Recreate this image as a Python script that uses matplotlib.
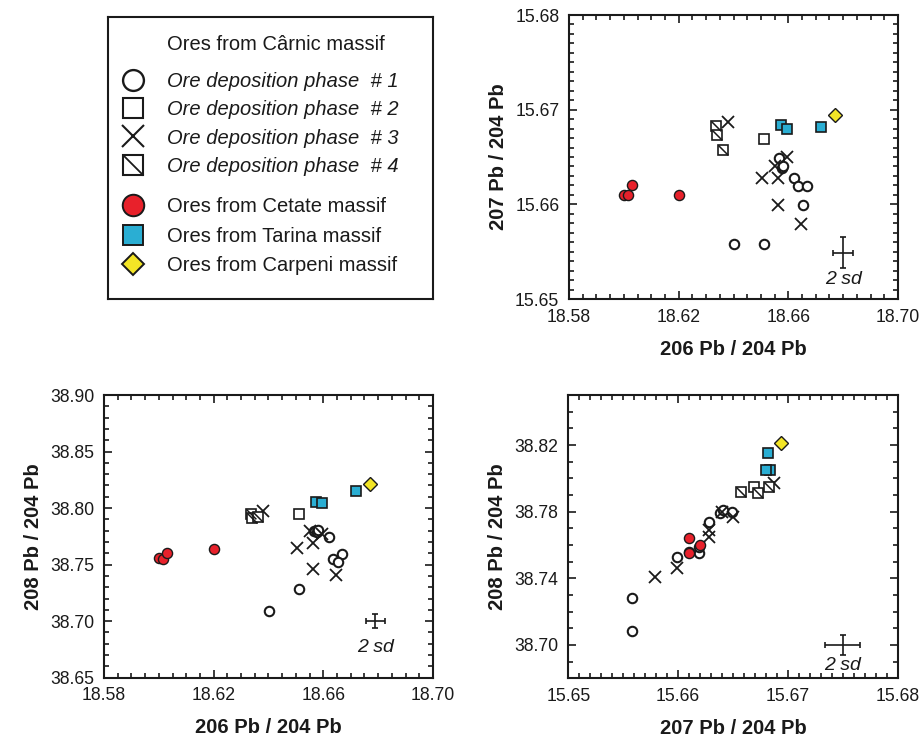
import matplotlib
matplotlib.use("Agg")
import matplotlib.pyplot as plt
from matplotlib.lines import Line2D
from matplotlib.ticker import MultipleLocator, FormatStrFormatter

plt.rcParams["font.family"] = ["Liberation Sans Narrow", "Liberation Sans", "DejaVu Sans"]

# Carnic massif, ore deposition phase 1 (open circles)
p1_206 = [18.6403, 18.6512, 18.6567, 18.6576, 18.6580, 18.6622, 18.6634, 18.6667, 18.6652]
p1_207 = [15.6558, 15.6558, 15.6649, 15.6638, 15.6641, 15.6628, 15.6619, 15.6619, 15.6599]
p1_208 = [38.7086, 38.7280, 38.7800, 38.7790, 38.7810, 38.7740, 38.7550, 38.7590, 38.7527]

# phase 2 (open squares)
p2_206 = [18.6510]
p2_207 = [15.6669]
p2_208 = [38.7950]

# phase 3 (crosses)
p3_206 = [18.6380, 18.6503, 18.6561, 18.6561, 18.6595, 18.6551, 18.6646]
p3_207 = [15.6687, 15.6628, 15.6628, 15.6599, 15.6650, 15.6640, 15.6579]
p3_208 = [38.7970, 38.7650, 38.7690, 38.7460, 38.7770, 38.7795, 38.7410]

# phase 4 (squares with a diagonal)
p4_206 = [18.6335, 18.6340, 18.6362]
p4_207 = [15.6683, 15.6673, 15.6657]
p4_208 = [38.7945, 38.7910, 38.7920]

# Cetate, Tarina, Carpeni massifs
cet_206 = [18.6000, 18.6015, 18.6030, 18.6200]
cet_207 = [15.6610, 15.6610, 15.6620, 15.6610]
cet_208 = [38.7560, 38.7550, 38.7600, 38.7640]

tar_206 = [18.6572, 18.6595, 18.6720]
tar_207 = [15.6684, 15.6680, 15.6682]
tar_208 = [38.8052, 38.8048, 38.8150]

car_206 = [18.6770]
car_207 = [15.6694]
car_208 = [38.8210]

# 2 sd reference crosses
sd_206, sd_207, sd_208 = 0.0036, 0.0016, 0.0060

EDGE = "#1a1a1a"
RED = "#e8212b"
BLUE = "#2aaed3"
YELLOW = "#f3e526"
DIAG = [(-1, 1), (1, -1)]

iso206 = {"p1": p1_206, "p2": p2_206, "p3": p3_206, "p4": p4_206,
          "cet": cet_206, "tar": tar_206, "car": car_206}
iso207 = {"p1": p1_207, "p2": p2_207, "p3": p3_207, "p4": p4_207,
          "cet": cet_207, "tar": tar_207, "car": car_207}
iso208 = {"p1": p1_208, "p2": p2_208, "p3": p3_208, "p4": p4_208,
          "cet": cet_208, "tar": tar_208, "car": car_208}


def draw_panel(ax, x, y, sd_pos, sd_err, sd_offset):
    ax.plot(x["p1"], y["p1"], "o", ms=6.8, mfc="white", mec=EDGE, mew=1.5, ls="none", zorder=3)
    ax.plot(x["p3"], y["p3"], "x", ms=8, mec=EDGE, mew=1.3, ls="none", zorder=3)
    ax.plot(x["p2"], y["p2"], "s", ms=7, mfc="white", mec=EDGE, mew=1.2, ls="none", zorder=3)
    ax.plot(x["p4"], y["p4"], "s", ms=7, mfc="white", mec=EDGE, mew=1.2, ls="none", zorder=3)
    ax.plot(x["p4"], y["p4"], marker=DIAG, ms=7, mec=EDGE, mew=1.1, ls="none", zorder=3)
    ax.plot(x["cet"], y["cet"], "o", ms=7.3, mfc=RED, mec=EDGE, mew=1.0, ls="none", zorder=4)
    ax.plot(x["tar"], y["tar"], "s", ms=7.6, mfc=BLUE, mec=EDGE, mew=1.2, ls="none", zorder=4)
    ax.plot(x["car"], y["car"], "D", ms=7.2, mfc=YELLOW, mec=EDGE, mew=1.0, ls="none", zorder=4)
    ax.errorbar([sd_pos[0]], [sd_pos[1]], xerr=[sd_err[0]], yerr=[sd_err[1]],
                fmt="none", ecolor=EDGE, elinewidth=1.2, capsize=2.5, capthick=1.2)
    ax.annotate("2 sd", xy=sd_pos, xytext=(0, sd_offset), textcoords="offset points",
                ha="center", va="center", fontsize=14, style="italic", color=EDGE)


def style_axes(ax, xlim, ylim, xticks, yticks, xminor, yminor, xlabel, ylabel):
    ax.set_xlim(xlim)
    ax.set_ylim(ylim)
    ax.set_xticks(xticks)
    ax.set_yticks(yticks)
    ax.xaxis.set_minor_locator(MultipleLocator(xminor))
    ax.yaxis.set_minor_locator(MultipleLocator(yminor))
    ax.xaxis.set_major_formatter(FormatStrFormatter("%.2f"))
    ax.yaxis.set_major_formatter(FormatStrFormatter("%.2f"))
    ax.tick_params(which="both", direction="in", top=True, right=True, width=1.2,
                   colors=EDGE, labelsize=12.7, pad=7)
    ax.tick_params(which="major", length=6)
    ax.tick_params(which="minor", length=3.5)
    for s in ax.spines.values():
        s.set_linewidth(1.5)
        s.set_color(EDGE)
    ax.set_xlabel(xlabel, fontsize=14.5, fontweight="bold", labelpad=10, color=EDGE)
    ax.set_ylabel(ylabel, fontsize=14.5, fontweight="bold", labelpad=5, color=EDGE)


fig = plt.figure(figsize=(9.2, 7.4), dpi=100)
ax_tr = fig.add_axes([0.6185, 0.5959, 0.3576, 0.3838])
ax_bl = fig.add_axes([0.1130, 0.0842, 0.3576, 0.3820])
ax_br = fig.add_axes([0.6177, 0.0834, 0.3580, 0.3828])
lax = fig.add_axes([0.1174, 0.5959, 0.3533, 0.3811])

x206_ticks = [18.58, 18.62, 18.66, 18.70]
x207_ticks = [15.65, 15.66, 15.67, 15.68]
y207_ticks = [15.65, 15.66, 15.67, 15.68]
y208_ticks_bl = [38.65, 38.70, 38.75, 38.80, 38.85, 38.90]
y208_ticks_br = [38.70, 38.74, 38.78, 38.82]

draw_panel(ax_tr, iso206, iso207, (18.680, 15.6549), (sd_206, sd_207), -19)
style_axes(ax_tr, (18.58, 18.70), (15.65, 15.68), x206_ticks, y207_ticks, 0.005, 0.001,
           "206 Pb / 204 Pb", "207 Pb / 204 Pb")

draw_panel(ax_bl, iso206, iso208, (18.679, 38.700), (sd_206, sd_208), -19)
style_axes(ax_bl, (18.58, 18.70), (38.65, 38.90), x206_ticks, y208_ticks_bl, 0.005, 0.01,
           "206 Pb / 204 Pb", "208 Pb / 204 Pb")

draw_panel(ax_br, iso207, iso208, (15.675, 38.700), (sd_207, sd_208), -15)
style_axes(ax_br, (15.65, 15.68), (38.68, 38.85), x207_ticks, y208_ticks_br, 0.001, 0.01,
           "207 Pb / 204 Pb", "208 Pb / 204 Pb")

# legend panel
lax.set_xticks([])
lax.set_yticks([])
for s in lax.spines.values():
    s.set_linewidth(1.5)
    s.set_color(EDGE)

lax.text(0.182, 0.904, "Ores from C\u00e2rnic massif", transform=lax.transAxes,
         ha="left", va="center", fontsize=14.5, color=EDGE)

h_p1 = Line2D([], [], marker="o", ms=15, mfc="white", mec=EDGE, mew=1.7, ls="none")
h_p2 = Line2D([], [], marker="s", ms=14.5, mfc="white", mec=EDGE, mew=1.5, ls="none")
h_p3 = Line2D([], [], marker="x", ms=15.5, mec=EDGE, mew=1.5, ls="none")
h_p4a = Line2D([], [], marker="s", ms=14.5, mfc="white", mec=EDGE, mew=1.5, ls="none")
h_p4b = Line2D([], [], marker=DIAG, ms=14.5, mec=EDGE, mew=1.3, ls="none")
h_cet = Line2D([], [], marker="o", ms=15.5, mfc=RED, mec=EDGE, mew=1.4, ls="none")
h_tar = Line2D([], [], marker="s", ms=14.5, mfc=BLUE, mec=EDGE, mew=1.4, ls="none")
h_car = Line2D([], [], marker="D", ms=11.5, mfc=YELLOW, mec=EDGE, mew=1.4, ls="none")

leg1 = lax.legend([h_p1, h_p2, h_p3, (h_p4a, h_p4b)],
                  ["Ore deposition phase  # 1", "Ore deposition phase  # 2",
                   "Ore deposition phase  # 3", "Ore deposition phase  # 4"],
                  loc="upper left", bbox_to_anchor=(0.037, 0.805), frameon=False,
                  fontsize=14.5, borderpad=0, borderaxespad=0, handlelength=1.3,
                  handletextpad=1.04, labelspacing=0.46)
for t in leg1.get_texts():
    t.set_style("italic")
    t.set_color(EDGE)
lax.add_artist(leg1)

leg2 = lax.legend([h_cet, h_tar, h_car],
                  ["Ores from Cetate massif", "Ores from Tarina massif", "Ores from Carpeni massif"],
                  loc="upper left", bbox_to_anchor=(0.037, 0.362), frameon=False,
                  fontsize=14.5, borderpad=0, borderaxespad=0, handlelength=1.3,
                  handletextpad=1.04, labelspacing=0.53)
for t in leg2.get_texts():
    t.set_color(EDGE)

fig.savefig("out.png", dpi=100)
